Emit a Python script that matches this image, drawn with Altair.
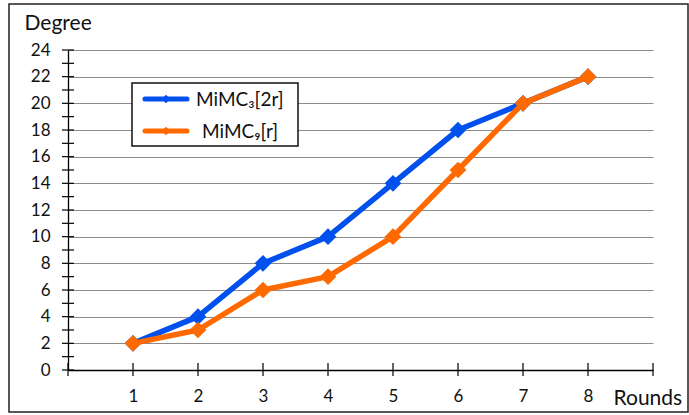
import altair as alt
import pandas as pd

# ---- data ----
rounds = [1, 2, 3, 4, 5, 6, 7, 8]
mimc3_2r = [2, 4, 8, 10, 14, 18, 20, 22]
mimc9_r = [2, 3, 6, 7, 10, 15, 20, 22]
series_names = ["MiMC₃[2r]", "MiMC₉[r]"]
series_colors = ["#0050EE", "#FF6A00"]
y_major = list(range(0, 25, 2))
y_all = list(range(0, 25))
x_all = list(range(0, 10))

FONT = "Lato"
W, H = 585, 320

df = pd.DataFrame({
    "x": rounds * 2,
    "y": mimc3_2r + mimc9_r,
    "series": [series_names[0]] * len(rounds) + [series_names[1]] * len(rounds),
})

color = alt.Color("series:N", scale=alt.Scale(domain=series_names, range=series_colors), legend=None)

xaxis = alt.Axis(
    values=x_all, labelExpr="datum.value >= 1 && datum.value <= 8 ? datum.label : ''",
    grid=False, ticks=False, tickSize=0, domainColor="#000", domainWidth=1.3,
    labelFont=FONT, labelFontSize=17, labelColor="#111", labelPadding=18,
    title="Rounds", titleFont=FONT, titleFontSize=21, titleFontWeight="normal", titleColor="#111",
    titleAngle=0, titleAlign="left", titleBaseline="middle", titleX=545, titleY=28,
)
yaxis = alt.Axis(
    values=y_major, grid=True, gridColor="#8c8c8c", gridWidth=1.2,
    ticks=False, tickSize=0, domainColor="#000", domainWidth=1.3,
    labelFont=FONT, labelFontSize=17, labelColor="#111", labelPadding=18,
    title="Degree", titleFont=FONT, titleFontSize=21, titleFontWeight="normal", titleColor="#111",
    titleAngle=0, titleAlign="left", titleBaseline="middle", titleX=-44, titleY=-27,
)
X = alt.X("x:Q", scale=alt.Scale(domain=[0, 9], nice=False, zero=False), axis=xaxis)
Y = alt.Y("y:Q", scale=alt.Scale(domain=[0, 24], nice=False), axis=yaxis)

# outer border
dummy = pd.DataFrame({"a": [0]})
border = alt.Chart(dummy).mark_rect(filled=False, stroke="#222", strokeWidth=1.5).encode(
    x=alt.value(-59), x2=alt.value(620), y=alt.value(-46), y2=alt.value(362)
)

# crossing ticks
yt = pd.DataFrame({"y": y_all})
ytick = alt.Chart(yt).mark_rule(color="#000", strokeWidth=1.2).encode(
    y=Y, x=alt.value(-6), x2=alt.value(6)
)
xt = pd.DataFrame({"x": x_all})
xtick = alt.Chart(xt).mark_rule(color="#000", strokeWidth=1.2).encode(
    x=X, y=alt.value(H - 7), y2=alt.value(H + 6)
)

layers = [border, ytick, xtick]
for name in series_names:
    base = alt.Chart(df).transform_filter(alt.datum.series == name)
    layers.append(base.mark_line(strokeWidth=5.5, strokeJoin="round", strokeCap="round").encode(x=X, y=Y, color=color))
    layers.append(base.mark_point(shape="diamond", filled=True, size=280, opacity=1).encode(x=X, y=Y, color=color))

# legend box
leg_box = alt.Chart(dummy).mark_rect(fill="white", stroke="#111", strokeWidth=1.5).encode(
    x=alt.value(64), x2=alt.value(230), y=alt.value(33), y2=alt.value(96)
)
layers.append(leg_box)
leg_rows = [49, 81]
leg_text_x = [128, 134]
for i, name in enumerate(series_names):
    ld = pd.DataFrame({"series": [name]})
    lc = alt.Chart(ld)
    layers.append(lc.mark_rule(strokeWidth=5, strokeCap="round").encode(
        x=alt.value(77), x2=alt.value(119), y=alt.value(leg_rows[i]), color=color))
    layers.append(lc.mark_point(shape="diamond", filled=True, size=70, opacity=1).encode(
        x=alt.value(98), y=alt.value(leg_rows[i]), color=color))
    layers.append(lc.mark_text(font=FONT, fontSize=19, align="left", baseline="middle", color="#111").encode(
        x=alt.value(leg_text_x[i]), y=alt.value(leg_rows[i] + 1), text="series:N"))

chart = alt.layer(*layers).properties(
    width=W, height=H,
    autosize=alt.AutoSizeParams(type="none"),
    padding={"left": 68, "top": 50, "right": 36, "bottom": 45},
    background="white",
).configure_view(stroke=None)

chart.save("out.html", embed_options={"renderer": "svg", "actions": False})
